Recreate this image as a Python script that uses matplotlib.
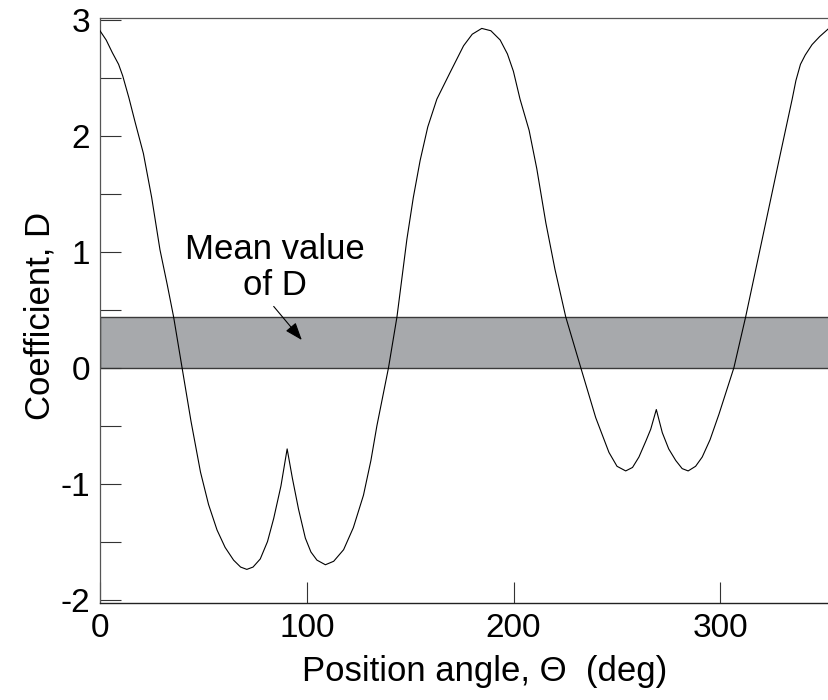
import matplotlib
matplotlib.use("Agg")
import matplotlib.pyplot as plt
from matplotlib.ticker import MultipleLocator

plt.rcParams['font.family'] = ['Liberation Sans', 'DejaVu Sans']
plt.rcParams['axes.unicode_minus'] = False

# position angle (deg) and coefficient D
angle = [0, 3, 6, 9, 11, 14, 17, 21, 25, 29, 32.5, 35.6, 39.7, 44, 48.6,
         52.5, 56.6, 60.5, 64.6, 68, 71, 74, 77.5, 81, 84, 87.5, 90.5,
         93, 96, 99.3, 102, 104.9, 109, 113, 117.8, 122.5, 127.4, 131, 133.9,
         139.5, 143.6, 148.4, 151.5, 154.8, 158.5, 162.9, 169.3, 175.8, 180,
         184.6, 189, 193.5, 197, 199.9, 203.1, 207.5, 211.2, 215.6, 220,
         225.2, 232.5, 239.7, 246.1, 250, 254.2, 257.5, 260.6, 264, 266.3,
         269, 271.9, 275, 278.4, 281.5, 284.4, 288, 291.2, 295, 299.3, 306.5,
         312.2, 320.2, 328.3, 334.7, 336.5, 338.7, 341, 344.3, 348, 352.4]
coef_d = [2.91, 2.83, 2.72, 2.62, 2.52, 2.33, 2.12, 1.85, 1.47, 1.02, 0.72,
          0.44, 0.0, -0.46, -0.90, -1.18, -1.40, -1.55, -1.66, -1.72, -1.74,
          -1.72, -1.65, -1.50, -1.30, -1.02, -0.70, -0.95, -1.22, -1.47,
          -1.59, -1.66, -1.70, -1.67, -1.57, -1.38, -1.10, -0.80, -0.50, 0.0,
          0.44, 1.11, 1.47, 1.79, 2.08, 2.32, 2.55, 2.78, 2.88, 2.93, 2.91,
          2.83, 2.71, 2.56, 2.32, 2.05, 1.72, 1.25, 0.85, 0.44, 0.0, -0.43,
          -0.73, -0.85, -0.89, -0.86, -0.77, -0.63, -0.53, -0.36, -0.56,
          -0.70, -0.80, -0.87, -0.89, -0.85, -0.77, -0.62, -0.40, 0.0, 0.44,
          1.11, 1.79, 2.32, 2.48, 2.62, 2.70, 2.79, 2.86, 2.93]

mean_low = 0.0
mean_high = 0.44

fig = plt.figure(figsize=(8.29, 7.0), dpi=100)
ax = fig.add_axes([0.1206, 0.1386, 0.8794, 0.8357])

ax.axhspan(mean_low, mean_high, facecolor='#a7a9ac', edgecolor='#3a3a3a',
           linewidth=1.0, zorder=1)
ax.plot(angle, coef_d, color='black', linewidth=0.8, zorder=3)

ax.text(84.5, 0.63, "Mean value\nof D", ha='center', va='baseline',
        multialignment='center', fontsize=25, linespacing=1.1)
ax.annotate('', xy=(97.6, 0.24), xytext=(84, 0.53),
            arrowprops=dict(arrowstyle='-|>,head_length=0.6,head_width=0.22',
                            color='black', lw=0.8, mutation_scale=18,
                            shrinkA=0, shrinkB=0), zorder=4)

ax.set_xlim(0, 352.5)
ax.set_ylim(-2.03, 3.02)
ax.set_xticks([0, 100, 200, 300])
ax.set_yticks([-2, -1, 0, 1, 2, 3])
ax.yaxis.set_minor_locator(MultipleLocator(0.5))
ax.tick_params(axis='both', which='both', direction='in', length=15,
               width=0.8, color='#333333', labelsize=24, pad=7)
ax.tick_params(axis='y', which='minor', labelleft=False)

ax.spines['right'].set_visible(False)
for s in ['top', 'left']:
    ax.spines[s].set_color('#555555')
    ax.spines[s].set_linewidth(0.9)
ax.spines['bottom'].set_color('#222222')
ax.spines['bottom'].set_linewidth(1.0)

ax.set_xlabel("Position angle, \u0398  (deg)", fontsize=25, labelpad=8)
ax.xaxis.label.set_x(0.528)
ax.set_ylabel("Coefficient, D", fontsize=25, labelpad=3)
ax.yaxis.label.set_y(0.49)

fig.savefig("out.png", dpi=100)
